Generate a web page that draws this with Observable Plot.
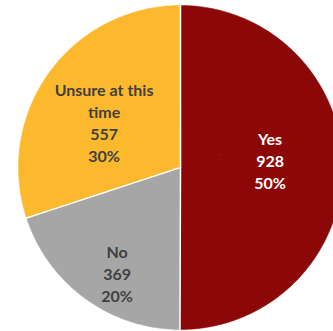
<!DOCTYPE html>
<html>
<head>
<meta charset="utf-8">
<script src="https://cdn.jsdelivr.net/npm/d3@7"></script>
<script src="https://cdn.jsdelivr.net/npm/@observablehq/plot@0.6"></script>
<style>
  html, body { margin: 0; padding: 0; background: #fff; overflow: hidden; }
</style>
</head>
<body>
<div id="chart"></div>
<script>
// Data
const categories = ["Yes", "No", "Unsure at this time"];
const counts = [928, 369, 557];
const percents = ["50%", "20%", "30%"];
const labelLines = ["Yes", "No", "Unsure at this\ntime"];
const colors = ["#8c0808", "#a6a6a6", "#fdb92e"];
const textColors = ["#ffffff", "#404040", "#404040"];

// Pie geometry on a sphere, drawn with an azimuthal projection
const R = 60;                 // pie radius in degrees of arc
const labelFrac = { "Yes": 0.555, "No": 0.76, "Unsure at this time": 0.55 };
const labelShift = -5;        // degrees

const pie = d3.pie().sort(null).startAngle(0).endAngle(2 * Math.PI).value((d) => d.value);
const rows = categories.map((c, i) => ({ label: c, value: counts[i], pct: percents[i], text: labelLines[i], tc: textColors[i] }));
const arcs = pie(rows);

const rot = d3.geoRotation([0, -90]);
const polar = (thetaDeg, rDeg) => rot([180 - (((thetaDeg % 360) + 360) % 360), 90 - rDeg]);

function wedge(t0, t1) {
  const ring = [polar(0, 0)];
  const n = Math.max(2, Math.ceil(t1 - t0));
  for (let k = 0; k <= n; k++) ring.push(polar(t0 + (t1 - t0) * k / n, R));
  ring.push(polar(0, 0));
  const g = { type: "Polygon", coordinates: [ring] };
  if (d3.geoArea(g) > 2 * Math.PI) g.coordinates = [ring.slice().reverse()];
  return g.coordinates;
}

const features = arcs.map((a) => {
  const t0 = a.startAngle * 180 / Math.PI, t1 = a.endAngle * 180 / Math.PI;
  const parts = Math.ceil((t1 - t0) / 45);
  const polys = [];
  for (let p = 0; p < parts; p++) polys.push(wedge(t0 + (t1 - t0) * p / parts, t0 + (t1 - t0) * (p + 1) / parts));
  return { type: "Feature", properties: { label: a.data.label }, geometry: { type: "MultiPolygon", coordinates: polys } };
});

const separators = arcs.map((a) => {
  const t = a.startAngle * 180 / Math.PI;
  return { type: "LineString", coordinates: [polar(t, 0), polar(t, R * 0.5), polar(t, R * 1.02)] };
});

const labels = arcs.map((a) => {
  const mid = (a.startAngle + a.endAngle) / 2 * 180 / Math.PI + labelShift;
  const [lon, lat] = polar(mid, R * labelFrac[a.data.label]);
  return { lon, lat, text: `${a.data.text}\n${a.data.value}\n${a.data.pct}`, tc: a.data.tc };
});

const disc = d3.geoCircle().center(polar(0, 0)).radius(R)();

const chart = Plot.plot({
  width: 333,
  height: 331,
  marginLeft: 18,
  marginRight: -9,
  marginTop: 5,
  marginBottom: 2,
  projection: { type: "azimuthal-equidistant", rotate: [0, 0], domain: disc },
  color: { domain: categories, range: colors },
  style: { fontFamily: "Lato, 'Open Sans', sans-serif", background: "#fff" },
  marks: [
    Plot.geo(features, { fill: (d) => d.properties.label, stroke: (d) => d.properties.label, strokeWidth: 0.5 }),
    Plot.geo(separators, { stroke: "#ffffff", strokeWidth: 1.5 }),
    Plot.text(labels, {
      x: "lon", y: "lat", text: "text", fill: "tc",
      fontSize: 16, fontWeight: "bold", lineHeight: 1.38, textAnchor: "middle"
    })
  ]
});
document.getElementById("chart").appendChild(chart);
</script>
</body>
</html>
